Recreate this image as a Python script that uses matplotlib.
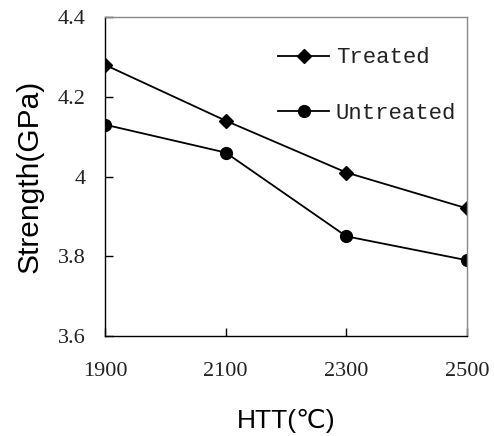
import matplotlib
matplotlib.use("Agg")
import matplotlib.pyplot as plt

htt = [1900, 2100, 2300, 2500]
treated = [4.28, 4.14, 4.01, 3.92]
untreated = [4.13, 4.06, 3.85, 3.79]
yticks = [3.6, 3.8, 4.0, 4.2, 4.4]
ytick_labels = ["3.6", "3.8", "4", "4.2", "4.4"]
xtick_labels = ["1900", "2100", "2300", "2500"]

fig = plt.figure(figsize=(4.94, 4.36), dpi=100)
ax = fig.add_axes([105/494, 1-336/436, 362/494, 319/436])

ax.plot(htt, treated, color="black", lw=1.3, marker="D", ms=7.5, label="Treated")
ax.plot(htt, untreated, color="black", lw=1.3, marker="o", ms=8.5, label="Untreated")

ax.set_xlim(1900, 2500)
ax.set_ylim(3.6, 4.4)
ax.set_xticks(htt)
ax.set_xticklabels(xtick_labels)
ax.set_yticks(yticks)
ax.set_yticklabels(ytick_labels)

ax.tick_params(axis="both", direction="in", length=6, width=1, colors="black")
ax.tick_params(axis="y", pad=14)
ax.tick_params(axis="x", pad=19)
for lab in ax.get_xticklabels() + ax.get_yticklabels():
    lab.set_fontfamily("Liberation Serif")
    lab.set_fontsize(16)
    lab.set_color("#222222")

ax.spines["left"].set_color("black")
ax.spines["bottom"].set_color("black")
ax.spines["top"].set_color("#888888")
ax.spines["right"].set_color("#888888")
for s in ax.spines.values():
    s.set_linewidth(1.0)

ax.set_xlabel("HTT(\u2103)", family=["Liberation Sans", "DejaVu Sans"], fontsize=19, labelpad=20)
ax.set_ylabel("Strength(GPa)", family=["Liberation Sans", "DejaVu Sans"], fontsize=21.5, labelpad=10)

leg = ax.legend(loc="upper left", bbox_to_anchor=(0.478, 0.905), frameon=False,
                prop={"family": "Liberation Mono", "size": 16},
                handlelength=2.3, handletextpad=0.3, labelspacing=1.55,
                borderpad=0, borderaxespad=0)
for t in leg.get_texts():
    t.set_color("#222222")

fig.savefig("out.png", dpi=100)
